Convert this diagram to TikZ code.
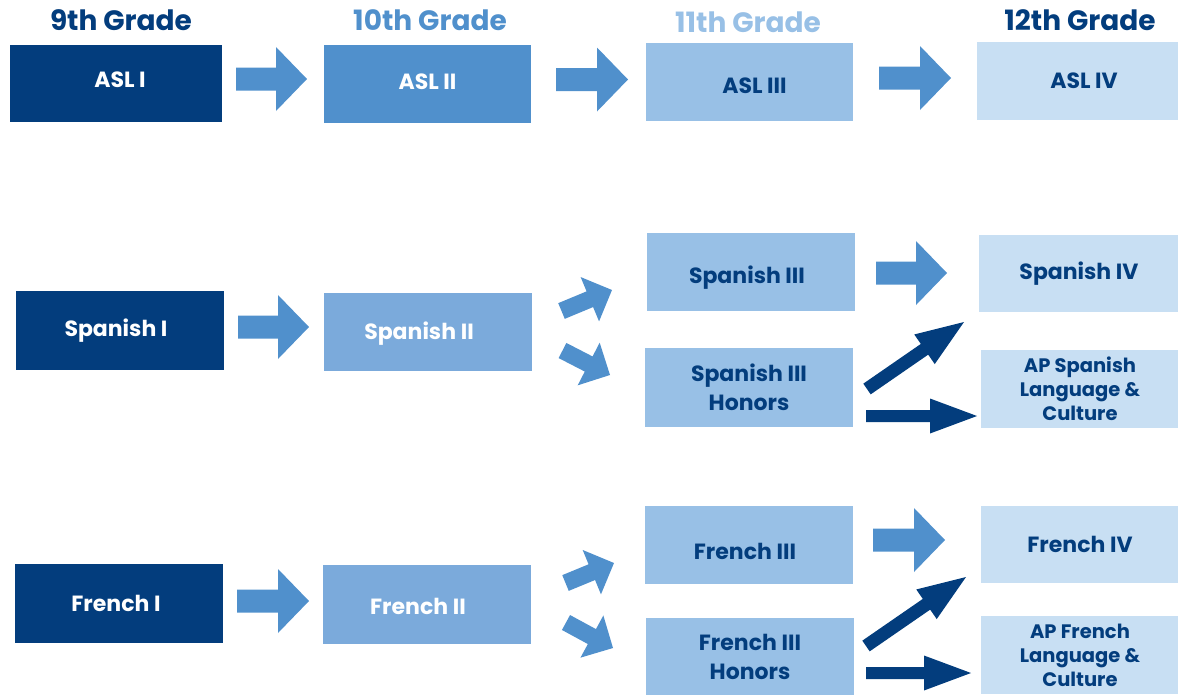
\documentclass[tikz,border=0pt]{standalone}
\usepackage{fontspec}
\setmainfont{Poppins}
\usetikzlibrary{calc}

\definecolor{navy}{HTML}{033D7D}
\definecolor{midblue}{HTML}{5090CC}
\definecolor{blueii}{HTML}{7BAADB}
\definecolor{blueiii}{HTML}{98C0E6}
\definecolor{blueiv}{HTML}{C8DFF3}

% block arrow: style, from, to, shaft half width, head half width, head length
\newcommand{\bigarrow}[6]{%
  \coordinate (hb) at ($(#3)!#6!(#2)$);
  \fill[#1] ($(#2)!#4!90:(#3)$) -- ($(hb)!#4!90:(#3)$) -- ($(hb)!#5!90:(#3)$)
    -- (#3) -- ($(hb)!#5!-90:(#3)$) -- ($(hb)!#4!-90:(#3)$)
    -- ($(#2)!#4!-90:(#3)$) -- cycle;}
% move a label off the box centre: right, down, text
\newcommand{\nudge}[3]{\hspace*{#1}\hspace*{#1}\raisebox{-#2}[\height][\depth]{#3}}

\tikzset{
  course/.style={rectangle, inner sep=0pt, minimum width=208pt, minimum height=78pt,
    align=center, font=\fontsize{22}{29}\selectfont\bfseries},
  dark/.style={course, fill=navy, text=white},
  second/.style={course, fill=blueii, text=white},
  third/.style={course, fill=blueiii, text=navy},
  fourth/.style={course, fill=blueiv, text=navy},
  apcourse/.style={fourth, font=\fontsize{19.5}{24}\selectfont\bfseries},
  grade/.style={font=\fontsize{28}{32}\selectfont\bfseries},
  medarrow/.style={fill=midblue},
  darkarrow/.style={fill=navy}
}

\begin{document}
\begin{tikzpicture}[x=1pt, y=-1pt]
  \useasboundingbox (0,0) rectangle (1178,694);

  % grade titles
  \node[grade, text=navy] (g9) at (121,20) {9th Grade};
  \node[grade, text=midblue] (g10) at (430,20) {10th Grade};
  \node[grade, text=blueiii] (g11) at (748,22) {11th Grade};
  \node[grade, text=navy] (g12) at (1080,20) {12th Grade};

  % ASL
  \node[dark, minimum width=212pt, minimum height=77pt] (asl1) at (116,83.5) {\nudge{4pt}{-4pt}{ASL I}};
  \node[course, fill=midblue, text=white, minimum width=207pt] (asl2) at (427.5,84) {\nudge{0pt}{-2pt}{ASL II}};
  \node[third, minimum width=207pt] (asl3) at (749.5,82) {\nudge{5pt}{4pt}{ASL III}};
  \node[fourth, minimum width=204pt] (asl4) at (1079,81) {\nudge{5pt}{0pt}{ASL IV}};

  % Spanish
  \node[dark, minimum height=79pt] (spa1) at (120,330.5) {\nudge{-4pt}{0pt}{Spanish I}};
  \node[second] (spa2) at (428,332) {\nudge{-9pt}{2pt}{Spanish II}};
  \node[third] (spa3) at (751,272) {\nudge{-4pt}{6pt}{Spanish III}};
  \node[third, minimum height=79pt] (spa3h) at (749,387.5) {Spanish III\\Honors};
  \node[fourth, minimum width=200pt, minimum height=77pt] (spa4) at (1079,273.5) {Spanish IV};
  \node[apcourse, minimum width=198pt] (apspa) at (1080,389) {AP Spanish\\Language \&\\Culture};

  % French
  \node[dark, minimum height=79pt] (fre1) at (119,603.5) {\nudge{-3pt}{0pt}{French I}};
  \node[second, minimum height=79pt] (fre2) at (427,604.5) {\nudge{-9pt}{2pt}{French II}};
  \node[third] (fre3) at (749,545) {\nudge{-4pt}{6pt}{French III}};
  \node[third] (fre3h) at (750,657) {French III\\Honors};
  \node[fourth, minimum width=198pt, minimum height=77pt] (fre4) at (1080,544.5) {French IV};
  \node[apcourse, minimum width=198pt] (apfre) at (1080,655) {AP French\\Language \&\\Culture};

  % arrow ends
  \coordinate (a1s) at (236,79);    \coordinate (a1e) at (307,79);
  \coordinate (a2s) at (556,79.5);  \coordinate (a2e) at (628,79.5);
  \coordinate (a3s) at (879,78);    \coordinate (a3e) at (951,78);
  \coordinate (s1s) at (238,327);   \coordinate (s1e) at (309,327);
  \coordinate (sus) at (561.5,311); \coordinate (sue) at (612,290);
  \coordinate (sds) at (562.5,350.5); \coordinate (sde) at (610,375);
  \coordinate (s3s) at (876,273);   \coordinate (s3e) at (947,273);
  \coordinate (sxs) at (867,389);   \coordinate (sxe) at (964,322);
  \coordinate (shs) at (866,416);   \coordinate (she) at (977,416);
  \coordinate (f1s) at (237,601);   \coordinate (f1e) at (309,601);
  \coordinate (fus) at (565.5,583); \coordinate (fue) at (614,563);
  \coordinate (fds) at (566,622.5); \coordinate (fde) at (613,648);
  \coordinate (f3s) at (873,540);   \coordinate (f3e) at (945,540);
  \coordinate (fxs) at (866,646);   \coordinate (fxe) at (966,577);
  \coordinate (fhs) at (866,673);   \coordinate (fhe) at (971,673);

  % arrows
  \bigarrow{medarrow}{a1s}{a1e}{11.5pt}{32pt}{31pt}
  \bigarrow{medarrow}{a2s}{a2e}{11.5pt}{32pt}{31pt}
  \bigarrow{medarrow}{a3s}{a3e}{11.5pt}{32pt}{31pt}
  \bigarrow{medarrow}{s1s}{s1e}{11.5pt}{32pt}{31pt}
  \bigarrow{medarrow}{s3s}{s3e}{11.5pt}{32pt}{31pt}
  \bigarrow{medarrow}{f1s}{f1e}{11.5pt}{32pt}{31pt}
  \bigarrow{medarrow}{f3s}{f3e}{11.5pt}{32pt}{31pt}
  \bigarrow{medarrow}{sus}{sue}{8.5pt}{24pt}{24pt}
  \bigarrow{medarrow}{sds}{sde}{8.5pt}{24pt}{24pt}
  \bigarrow{medarrow}{fus}{fue}{8.5pt}{24pt}{24pt}
  \bigarrow{medarrow}{fds}{fde}{8.5pt}{24pt}{24pt}
  \bigarrow{darkarrow}{sxs}{sxe}{6.5pt}{18pt}{48pt}
  \bigarrow{darkarrow}{shs}{she}{6pt}{17.5pt}{47pt}
  \bigarrow{darkarrow}{fxs}{fxe}{6.5pt}{18pt}{48pt}
  \bigarrow{darkarrow}{fhs}{fhe}{6pt}{17.5pt}{47pt}
\end{tikzpicture}
\end{document}
